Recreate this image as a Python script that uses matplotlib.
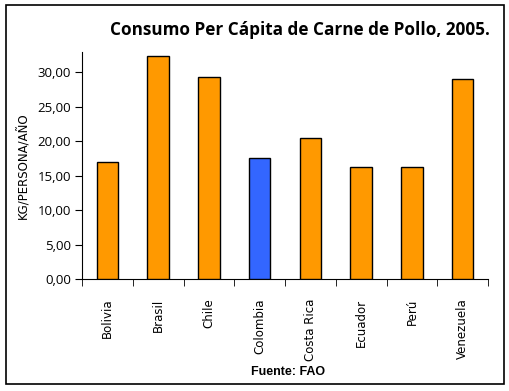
import matplotlib
matplotlib.use("Agg")
import matplotlib.pyplot as plt
from matplotlib.patches import Rectangle
import numpy as np

countries = ["Bolivia", "Brasil", "Chile", "Colombia", "Costa Rica", "Ecuador", "Perú", "Venezuela"]
values = [17.0, 32.3, 29.3, 17.6, 20.4, 16.2, 16.2, 29.0]
bar_colors = ["#FF9900", "#FF9900", "#FF9900", "#3366FF", "#FF9900", "#FF9900", "#FF9900", "#FF9900"]
yticks = [0, 5, 10, 15, 20, 25, 30]
ytick_labels = ["0,00", "5,00", "10,00", "15,00", "20,00", "25,00", "30,00"]

fig = plt.figure(figsize=(5.09, 3.91), dpi=100)
fig.patch.set_facecolor("white")
fig.add_artist(Rectangle((6/509, 1-384/391), 498/509, 379/391, transform=fig.transFigure,
                         fill=False, edgecolor="black", linewidth=1.2))

ax = fig.add_axes([82/509, 1-279/391, 406/509, 227/391])
x = np.arange(len(countries))
ax.bar(x, values, width=0.42, color=bar_colors, edgecolor="black", linewidth=1.0, zorder=3)
ax.set_xlim(-0.5, len(countries) - 0.5)
ax.set_ylim(0, 32.9)
ax.set_yticks(yticks)
ax.set_yticklabels(ytick_labels, fontsize=9.5, family="Open Sans")
ax.set_xticks(x)
ax.set_xticklabels(countries, rotation=90, fontsize=8.5, family="DejaVu Sans")
ax.tick_params(axis="x", length=0, pad=14)
ax.set_xticks(np.arange(len(countries) + 1) - 0.5, minor=True)
ax.tick_params(axis="x", which="minor", length=5, direction="out")
ax.tick_params(axis="y", length=5, direction="out", pad=3)
for s in ["top", "right"]:
    ax.spines[s].set_visible(False)
ax.spines["left"].set_color("black")
ax.spines["bottom"].set_color("black")
ax.set_ylabel("KG/PERSONA/AÑO", fontsize=8.5, family="DejaVu Sans", labelpad=5)

fig.text(490/509, 1-30/391, "Consumo Per Cápita de Carne de Pollo, 2005.", ha="right", va="center",
         fontsize=12.3, fontweight="bold", family="Open Sans")
fig.text(288/509, 1-372/391, "Fuente: FAO", ha="center", va="center",
         fontsize=9, fontweight="bold", family="Liberation Sans")

fig.savefig("out.png", dpi=100)
